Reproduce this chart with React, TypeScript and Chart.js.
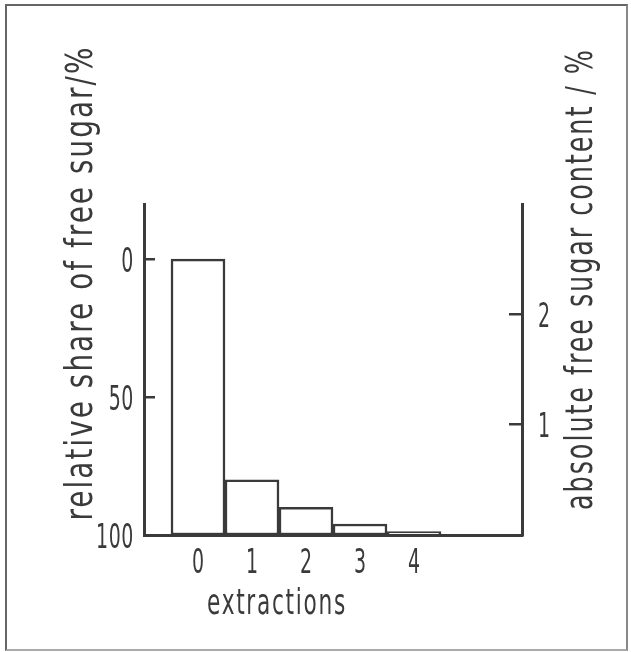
import React, { useEffect, useRef } from "react";
import { Chart, registerables } from "chart.js";

Chart.register(...registerables);

// ---- data ----
const extractions = [0, 1, 2, 3, 4];
const extractionLabels = ["0", "1", "2", "3", "4"];
const absoluteContent = [2.5, 0.5, 0.25, 0.1, 0.03];
const relativeTicks = [0, 50, 100];
const relativeTickLabels = ["0", "50", "100"];
const absoluteTicks = [1, 2];
const absoluteTickLabels = ["1", "2"];

const xTitle = "extractions";
const leftTitle = "relative share of free sugar/%";
const rightTitle = "absolute free sugar content / %";

const FONT = '"DejaVu Sans Condensed", "DejaVu Sans", sans-serif';
const INK = "#3a3a3a";

// draws horizontally condensed text (the original uses a narrow DIN-like face)
function drawCondensed(
  ctx: CanvasRenderingContext2D,
  text: string,
  x: number,
  y: number,
  opts: { size: number; sx?: number; len?: number; align: CanvasTextAlign; rot?: number; spacing?: number }
) {
  ctx.save();
  ctx.font = `${opts.size}px ${FONT}`;
  (ctx as any).letterSpacing = `${opts.spacing ?? 0}px`;
  ctx.textAlign = opts.align;
  ctx.textBaseline = "alphabetic";
  ctx.translate(x, y);
  if (opts.rot) ctx.rotate(opts.rot);
  let sx = opts.sx ?? 1;
  if (opts.len) sx = opts.len / ctx.measureText(text).width;
  ctx.scale(sx, 1);
  ctx.fillText(text, 0, 0);
  ctx.restore();
}

const textPlugin = {
  id: "condensedText",
  afterDraw(chart: any) {
    const ctx = chart.ctx as CanvasRenderingContext2D;
    const { x, y, y2 } = chart.scales;
    ctx.save();
    ctx.fillStyle = INK;
    const tickSize = 34;
    const tickSx = 0.62;
    const digitHalf = 12.5;
    extractions.forEach((v, i) => {
      drawCondensed(ctx, extractionLabels[i], x.getPixelForValue(v), x.top + 38, {
        size: tickSize,
        sx: tickSx,
        align: "center",
      });
    });
    relativeTicks.forEach((v, i) => {
      drawCondensed(ctx, relativeTickLabels[i], y.right - 10, y.getPixelForValue(v) + digitHalf, {
        size: tickSize,
        sx: tickSx,
        align: "right",
        spacing: 1,
      });
    });
    absoluteTicks.forEach((v, i) => {
      drawCondensed(ctx, absoluteTickLabels[i], y2.left + 16, y2.getPixelForValue(v) + digitHalf, {
        size: tickSize,
        sx: tickSx,
        align: "left",
      });
    });
    // axis titles
    drawCondensed(ctx, leftTitle, 92, 283, { size: 37, len: 475, align: "center", rot: -Math.PI / 2, spacing: 2.5 });
    drawCondensed(ctx, rightTitle, 592, 279, { size: 37, len: 462, align: "center", rot: -Math.PI / 2, spacing: 2.5 });
    drawCondensed(ctx, xTitle, 277, 614, { size: 35, len: 140, align: "center", spacing: 2.5 });
    ctx.restore();
  },
};

export default function App() {
  const ref = useRef<HTMLCanvasElement>(null);
  useEffect(() => {
    const canvas = ref.current!;
    const chart = new Chart(canvas, {
      type: "bar",
      data: {
        datasets: [
          {
            data: extractions.map((xv, i) => ({ x: xv, y: absoluteContent[i] })),
            yAxisID: "y2",
            backgroundColor: "#ffffff",
            borderColor: INK,
            borderWidth: 2.5,
            borderSkipped: false,
            barPercentage: 1,
            categoryPercentage: 1,
          },
        ],
      },
      plugins: [textPlugin],
      options: {
        animation: false,
        responsive: false,
        events: [],
        layout: { padding: { top: 204, left: 0, right: 0, bottom: 0 } },
        plugins: {
          legend: { display: false },
          tooltip: { enabled: false },
        },
        scales: {
          x: {
            type: "linear",
            offset: false,
            min: -1,
            max: 6,
            afterBuildTicks: (s: any) => {
              s.ticks = extractions.map((v) => ({ value: v }));
            },
            afterFit: (s: any) => {
              s.height = 117;
            },
            grid: { display: false, drawTicks: false },
            border: { display: true, color: INK, width: 3 },
            ticks: { display: false },
          },
          y: {
            type: "linear",
            position: "left",
            reverse: true,
            min: -20,
            max: 100,
            afterBuildTicks: (s: any) => {
              s.ticks = relativeTicks.map((v) => ({ value: v }));
            },
            afterFit: (s: any) => {
              s.width = 144;
            },
            grid: {
              drawOnChartArea: false,
              drawTicks: true,
              tickLength: -11,
              color: INK,
              lineWidth: 2.5,
            },
            border: { display: true, color: INK, width: 3 },
            ticks: { display: false },
          },
          y2: {
            type: "linear",
            position: "right",
            min: 0,
            max: 3,
            afterBuildTicks: (s: any) => {
              s.ticks = absoluteTicks.map((v) => ({ value: v }));
            },
            afterFit: (s: any) => {
              s.width = 109;
            },
            grid: {
              drawOnChartArea: false,
              drawTicks: true,
              tickLength: -13,
              color: INK,
              lineWidth: 2.5,
            },
            border: { display: true, color: INK, width: 3 },
            ticks: { display: false },
          },
        },
      } as any,
    });
    return () => chart.destroy();
  }, []);

  return (
    <div style={{ position: "fixed", left: 0, top: 0, width: 631, height: 652, background: "#fff" }}>
      <div
        style={{
          position: "absolute",
          left: 5,
          top: 4,
          width: 623,
          height: 647,
          borderTop: "2px solid #666",
          borderLeft: "2px solid #666",
          borderRight: "2px solid #888",
          borderBottom: "2px solid #aaa",
          boxSizing: "border-box",
        }}
      />
      <canvas ref={ref} width={631} height={652} style={{ position: "absolute", left: 0, top: 0 }} />
    </div>
  );
}
